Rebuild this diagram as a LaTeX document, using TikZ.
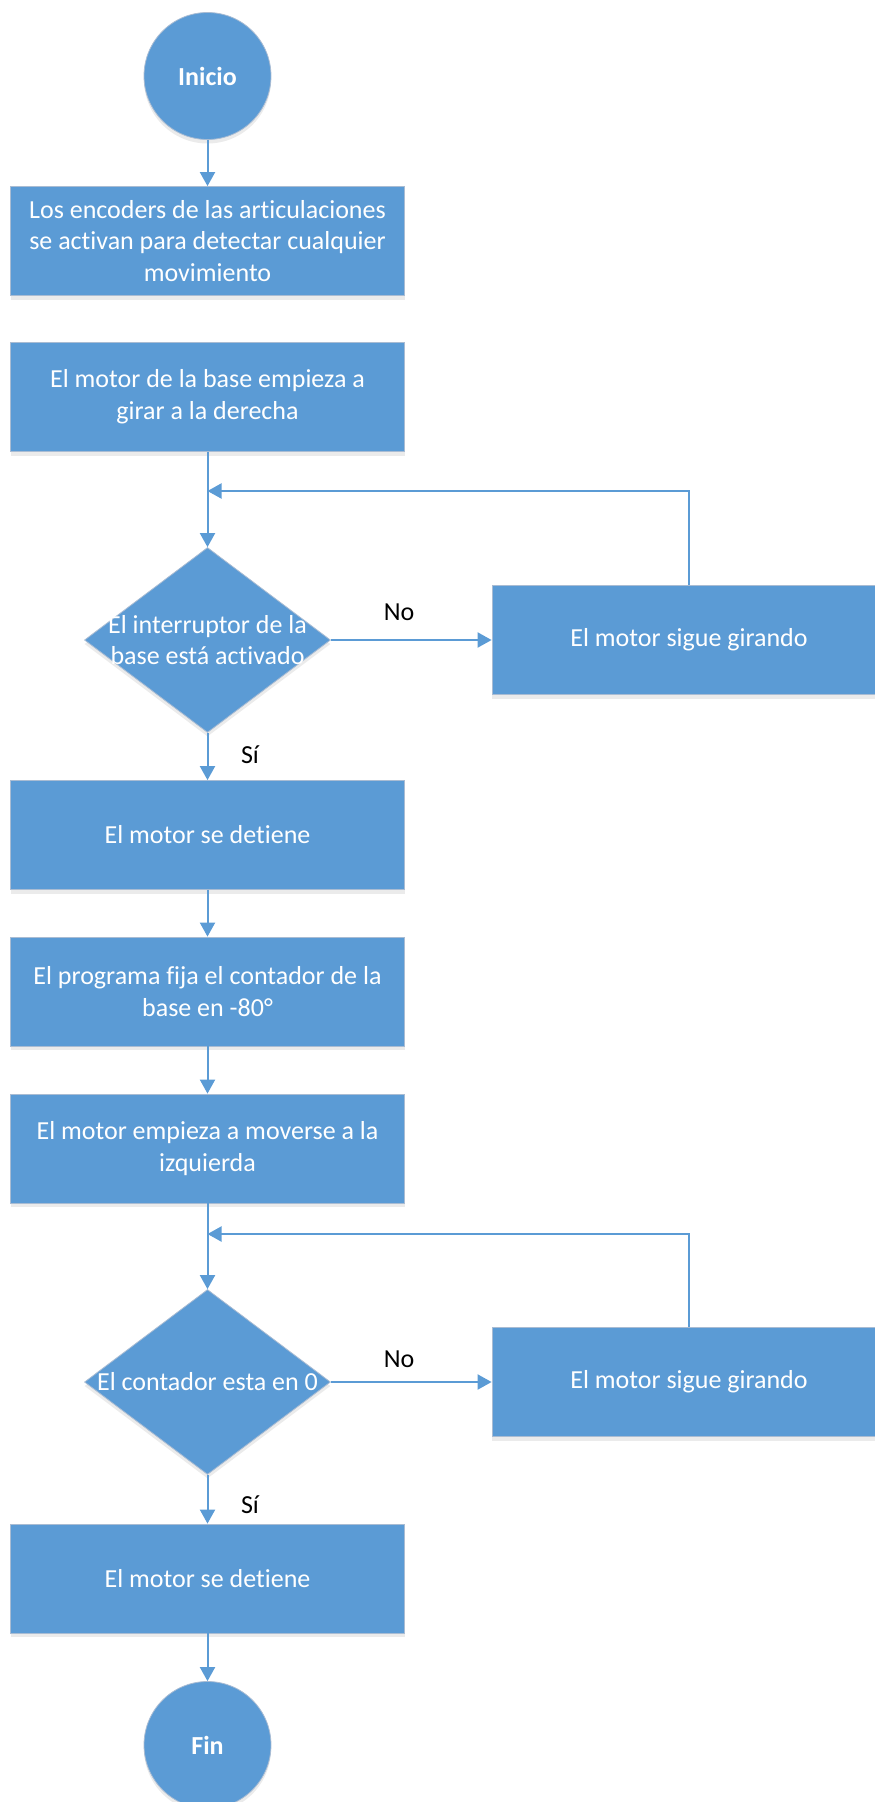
\documentclass[tikz,border=0pt]{standalone}
\usepackage{fontspec}
\setmainfont{Carlito}[Ligatures={NoCommon}]
\usetikzlibrary{shapes.geometric,arrows.meta,shadows}
\definecolor{boxblue}{HTML}{5B9BD5}
\definecolor{boxedge}{HTML}{A9BCD3}
\begin{document}
\begin{tikzpicture}[x=1pt,y=-1pt,
  every node/.style={font=\fontsize{26}{31.7}\selectfont},
  shade/.style={drop shadow={shadow xshift=0pt,shadow yshift=-4pt,opacity=0.08,fill=black}},
  procbox/.style={rectangle,fill=boxblue,draw=boxedge,line width=0.8pt,minimum width=394pt,minimum height=109pt,inner sep=0pt,text=white,align=center,shade},
  termnode/.style={circle,fill=boxblue,draw=boxedge,line width=0.8pt,minimum size=127pt,inner sep=0pt,text=white,font=\fontsize{26}{31.7}\selectfont\bfseries,shade},
  decnode/.style={diamond,fill=boxblue,draw=boxedge,line width=0.8pt,minimum width=246pt,minimum height=185pt,inner sep=0pt,shade},
  dectext/.style={text=white,align=center,inner sep=0pt},
  lbl/.style={text=black,anchor=base,inner sep=0pt},
  arr/.style={draw=boxblue,line width=2pt,-{Triangle[width=15pt,length=14pt]}}
]
\path[use as bounding box] (0,0) rectangle (875,1802);
\clip (0,0) rectangle (875,1802);

\node[termnode] (inicio) at (207.5,76) {Inicio};
\node[procbox] (b1) at (207.5,241) {Los encoders de las articulaciones\\se activan para detectar cualquier\\movimiento};
\node[procbox] (b2) at (207.5,397) {El motor de la base empieza a\\girar a la derecha};
\coordinate (j1) at (207.5,491);
\node[decnode] (d1) at (207.5,640) {};
\node[dectext] (t1) at (d1.center) {El interruptor de la\\base está activado};
\node[procbox] (r1) at (689,640) {El motor sigue girando};
\node[lbl] (no1) at (399,620) {No};
\node[lbl] (si1) at (250,763) {Sí};
\node[procbox] (b3) at (207.5,835) {El motor se detiene};
\node[procbox] (b4) at (207.5,991.5) {El programa fija el contador de la\\base en -80°};
\node[procbox] (b5) at (207.5,1148.5) {El motor empieza a moverse a la\\izquierda};
\coordinate (j2) at (207.5,1234);
\node[decnode] (d2) at (207.5,1382) {};
\node[dectext] (t2) at (d2.center) {El contador esta en 0};
\node[procbox] (r2) at (689,1382) {El motor sigue girando};
\node[lbl] (no2) at (399,1367) {No};
\node[lbl] (si2) at (250,1513) {Sí};
\node[procbox] (b6) at (207.5,1578.5) {El motor se detiene};
\node[termnode] (fin) at (207.5,1745) {Fin};

\draw[arr] (inicio.south) -- (b1.north);
\draw[arr] (b2.south) -- (d1.north);
\draw[arr] (d1.east) -- (r1.west);
\draw[arr] (r1.north) |- (j1);
\draw[arr] (d1.south) -- (b3.north);
\draw[arr] (b3.south) -- (b4.north);
\draw[arr] (b4.south) -- (b5.north);
\draw[arr] (b5.south) -- (d2.north);
\draw[arr] (d2.east) -- (r2.west);
\draw[arr] (r2.north) |- (j2);
\draw[arr] (d2.south) -- (b6.north);
\draw[arr] (b6.south) -- (fin.north);
\end{tikzpicture}
\end{document}
